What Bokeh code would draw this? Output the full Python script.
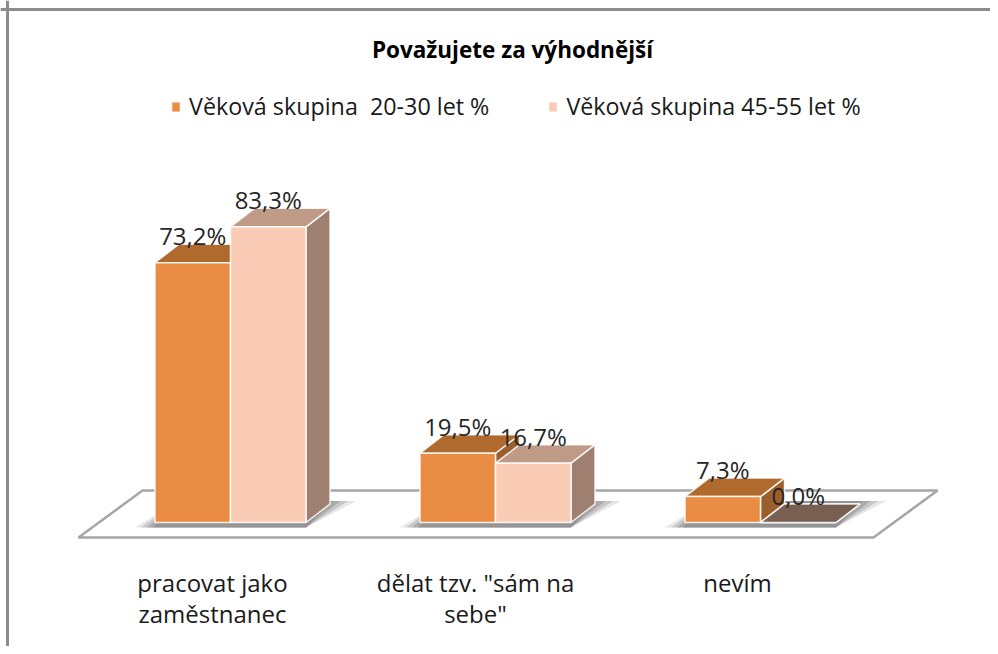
from bokeh.plotting import figure
from bokeh.models import Span, Label, Legend, LegendItem, ColumnDataSource
from bokeh.core.properties import value
from bokeh.embed import file_html
from bokeh.resources import INLINE

title_text = "Považujete za výhodnější"
categories = [["pracovat jako", "zaměstnanec"], ['dělat tzv. "sám na', 'sebe"'], ["nevím"]]
series_names = ["Věková skupina  20-30 let %", "Věková skupina 45-55 let %"]
young = [73.2, 19.5, 7.3]
older = [83.3, 16.7, 0.0]
labels_young = ["73,2%", "19,5%", "7,3%"]
labels_older = ["83,3%", "16,7%", "0,0%"]

W, H = 990, 646
PX_X, PX_Y = 265.0, 3.55      # pixels per category / per percent
X0, Y0 = 230.0, 522.0         # figure pixel of category 0 and of value 0
bar_w = 75.5 / PX_X
dx, dy = 24 / PX_X, 18.5 / PX_Y
FONT = value("Open Sans")
cat_offsets = [-18, -20, -23]

p = figure(width=W, height=H, output_backend="svg", toolbar_location=None,
           x_range=(-X0 / PX_X, (W - X0) / PX_X),
           y_range=((Y0 - H) / PX_Y, Y0 / PX_Y),
           min_border=0, outline_line_color=None, background_fill_color="white")
p.xaxis.visible = False
p.yaxis.visible = False
p.grid.visible = False

def fx(px):
    return (px - X0) / PX_X
def fy(py):
    return (Y0 - py) / PX_Y

# floor
floor_px = [(78, 537), (873, 537), (937, 490), (142, 490)]
p.patch([fx(a) for a, b in floor_px], [fy(b) for a, b in floor_px],
        fill_color="white", line_color="#a6a6a6", line_width=2.5)

# soft shadows under each group
for i in range(3):
    left, right = i - bar_w, i + bar_w
    for grow, alpha in [(1.0, 0.2), (0.7, 0.3), (0.4, 0.4), (0.1, 0.5)]:
        xs = [left - grow * 20 / PX_X, right, right + dx + grow * 26 / PX_X, left + dx]
        ys = [-5 / PX_Y, -5 / PX_Y, dy + 3 / PX_Y, dy + 3 / PX_Y]
        p.patch(xs, ys, fill_color="#808080", fill_alpha=alpha, line_color=None)

def faces(vals, sign, front, top, side):
    lefts = [i + (0 if sign > 0 else -bar_w) for i in range(3)]
    rights = [l + bar_w for l in lefts]
    white = dict(line_color="#ffffff", line_width=1.5, line_alpha=0.85)
    p.patches([[r, r + dx, r + dx, r] for r in rights],
              [[0, dy, v + dy, v] for v in vals],
              fill_color=side, **white)
    p.patches([[l, r, r + dx, l + dx] for l, r in zip(lefts, rights)],
              [[v, v, v + dy, v + dy] for v in vals],
              fill_color=top, **white)
    src = ColumnDataSource(dict(left=lefts, right=rights, top=vals, bottom=[0, 0, 0]))
    return p.quad(left="left", right="right", top="top", bottom="bottom", source=src,
                  fill_color=front, **white)

r_young = faces(young, -1, "#E88D43", "#B06A2E", "#9A5F2C")
r_older = faces(older, 1, "#FACBB5", "#BE9A87", "#9F8070")
p.patch([2, 2 + bar_w, 2 + bar_w + dx, 2 + dx],
        [older[2], older[2], older[2] + dy, older[2] + dy],
        fill_color="#776052", line_color="#ffffff", line_width=1.5, line_alpha=0.85)

# value labels
p.text([i - bar_w / 2 for i in range(3)], young, text=labels_young, text_font=FONT,
       text_font_size="24px", text_color="#262626", text_align="center",
       text_baseline="middle", y_offset=-27)
p.text([i + bar_w / 2 for i in range(3)], older, text=labels_older, text_font=FONT,
       text_font_size="24px", text_color="#262626", text_align="center",
       text_baseline="middle", y_offset=-27)

# category labels (two rows)
for i, lines in enumerate(categories):
    for j, line in enumerate(lines):
        p.text([i], [0], text=[line], text_font=FONT, text_font_size="24px",
               text_color="#1a1a1a", text_align="center", text_baseline="middle",
               x_offset=cat_offsets[i], y_offset=60 + 31 * j)

# chart frame
p.add_layout(Span(location=7, location_units="screen", dimension="height",
                  line_color="#8c8c8c", line_width=3))
p.add_layout(Span(location=H - 9, location_units="screen", dimension="width",
                  line_color="#8c8c8c", line_width=3))

# title
p.add_layout(Label(x=512, y=H - 49, x_units="screen", y_units="screen",
                   text=title_text, text_font="Open Sans", text_font_style="bold",
                   text_font_size="22.5px", text_color="#000000", text_align="center",
                   text_baseline="middle"))

legend = Legend(items=[LegendItem(label=series_names[0], renderers=[r_young]),
                       LegendItem(label=series_names[1], renderers=[r_older])],
                orientation="horizontal", location=(160, H - 122),
                border_line_color=None, background_fill_alpha=0,
                label_text_font="Open Sans", label_text_font_size="23.3px",
                label_text_color="#1a1a1a", glyph_width=11, glyph_height=13,
                spacing=58, label_standoff=8, padding=20, margin=0)
p.add_layout(legend)
legend.padding = 10
legend.location = (170, H - 122)

open("out.html", "w").write(file_html(p, INLINE))
